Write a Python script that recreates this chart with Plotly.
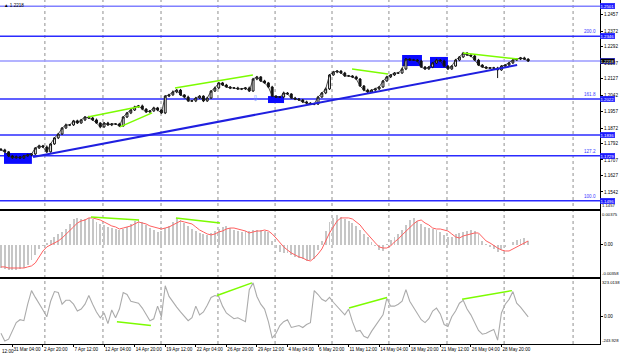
import plotly.graph_objects as go

# ---------------- data ----------------
closes = [
    1.1759, 1.1749, 1.1728, 1.1718, 1.1723, 1.1718, 1.1728, 1.1733, 1.1738, 1.1769,
    1.1780, 1.1774, 1.1749, 1.1790, 1.1821, 1.1841, 1.1872, 1.1888, 1.1888, 1.1909,
    1.1898, 1.1914, 1.1929, 1.1924, 1.1914, 1.1898, 1.1878, 1.1898, 1.1888, 1.1893,
    1.1893, 1.1883, 1.1929, 1.1950, 1.1965, 1.1981, 1.1986, 1.1970, 1.1955, 1.1960,
    1.1976, 1.1965, 1.1950, 1.2037, 1.2043, 1.2058, 1.2068, 1.2043, 1.2032, 1.2012,
    1.2012, 1.2027, 1.2037, 1.2012, 1.2027, 1.2063, 1.2079, 1.2105, 1.2094, 1.2084,
    1.2079, 1.2079, 1.2074, 1.2074, 1.2079, 1.2063, 1.2125, 1.2136, 1.2115, 1.2105,
    1.2084, 1.2037, 1.2032, 1.2032, 1.2053, 1.2048, 1.2027, 1.2022, 1.2017, 1.2007,
    1.2001, 1.1996, 1.1996, 1.2032, 1.2053, 1.2074, 1.2146, 1.2161, 1.2166, 1.2156,
    1.2141, 1.2141, 1.2136, 1.2125, 1.2089, 1.2068, 1.2058, 1.2068, 1.2074, 1.2084,
    1.2115, 1.2136, 1.2146, 1.2156, 1.2156, 1.2177, 1.2228, 1.2223, 1.2223, 1.2218,
    1.2187, 1.2177, 1.2187, 1.2208, 1.2223, 1.2218, 1.2192, 1.2177, 1.2192, 1.2223,
    1.2239, 1.2259, 1.2249, 1.2244, 1.2223, 1.2197, 1.2187, 1.2182, 1.2182, 1.2182,
    1.2172, 1.2192, 1.2197, 1.2208, 1.2223, 1.2228, 1.2234, 1.2228, 1.2218,
]
first_open = 1.1763
wick_up_pips = [
    5, 6, 4, 5, 7, 4, 5, 6, 5, 4, 6, 5, 8, 5, 4, 6, 5, 7, 4, 5,
    6, 5, 4, 6, 5, 7, 4, 5, 6, 5, 4, 6, 5, 5, 4, 6, 5, 7, 4, 5,
    6, 5, 4, 5, 6, 8, 5, 6, 4, 7, 5, 6, 5, 4, 6, 5, 7, 4, 5, 6,
    5, 4, 6, 5, 5, 7, 6, 5, 4, 6, 5, 6, 4, 5, 7, 5, 4, 6, 5, 5,
    6, 4, 5, 6, 5, 7, 5, 6, 4, 5, 6, 5, 4, 6, 5, 5, 7, 4, 6, 5,
    5, 6, 4, 5, 6, 7, 5, 4, 6, 5, 6, 5, 5, 4, 6, 5, 7, 5, 4, 6,
    5, 6, 5, 4, 5, 6, 5, 4, 5, 6, 6, 5, 4, 6, 5, 4, 5, 6, 4,
]
wick_dn_pips = [
    4, 5, 6, 5, 4, 6, 5, 4, 6, 5, 5, 4, 6, 4, 5, 6, 5, 4, 6, 5,
    5, 4, 6, 5, 5, 4, 7, 5, 4, 6, 5, 6, 4, 5, 6, 5, 4, 6, 5, 5,
    4, 6, 5, 6, 5, 4, 6, 5, 7, 5, 4, 6, 5, 6, 5, 4, 5, 6, 5, 4,
    6, 5, 4, 6, 5, 5, 4, 6, 5, 4, 6, 5, 5, 4, 6, 5, 4, 6, 5, 6,
    5, 4, 6, 5, 4, 6, 5, 4, 6, 5, 5, 4, 6, 5, 4, 6, 5, 5, 4, 6,
    5, 4, 6, 5, 5, 4, 6, 5, 4, 6, 5, 5, 4, 6, 5, 4, 6, 5, 5, 4,
    6, 5, 4, 6, 5, 5, 4, 6, 5, 4, 42, 5, 4, 6, 5, 4, 5, 4, 5,
]

macd_hist = [
    -0.00258, -0.00269, -0.00280, -0.00280, -0.00280, -0.00269, -0.00258, -0.00224, -0.00169, -0.00113,
    -0.00047, -0.00013, 0.00020, 0.00053, 0.00087, 0.00120, 0.00142, 0.00175, 0.00231, 0.00286,
    0.00298, 0.00286, 0.00286, 0.00298, 0.00286, 0.00253, 0.00231, 0.00220, 0.00198, 0.00186,
    0.00175, 0.00164, 0.00175, 0.00198, 0.00231, 0.00264, 0.00275, 0.00253, 0.00220, 0.00186,
    0.00164, 0.00142, 0.00153, 0.00186, 0.00209, 0.00253, 0.00298, 0.00275, 0.00242, 0.00209,
    0.00175, 0.00153, 0.00131, 0.00120, 0.00109, 0.00131, 0.00153, 0.00175, 0.00198, 0.00209,
    0.00186, 0.00164, 0.00153, 0.00142, 0.00153, 0.00153, 0.00164, 0.00164, 0.00164, 0.00153,
    0.00142, 0.00042, -0.00036, -0.00080, -0.00091, -0.00091, -0.00113, -0.00135, -0.00147, -0.00158,
    -0.00180, -0.00169, -0.00158, -0.00058, 0.00042, 0.00153, 0.00253, 0.00298, 0.00331, 0.00309,
    0.00286, 0.00264, 0.00242, 0.00209, 0.00164, 0.00120, 0.00087, 0.00031, -0.00013, -0.00058,
    -0.00069, 0.00009, 0.00053, 0.00087, 0.00120, 0.00164, 0.00220, 0.00275, 0.00298, 0.00264,
    0.00231, 0.00198, 0.00186, 0.00175, 0.00164, 0.00142, 0.00109, 0.00087, 0.00087, 0.00120,
    0.00131, 0.00142, 0.00153, 0.00164, 0.00153, 0.00120, 0.00042, 0.00009, -0.00024, -0.00047,
    -0.00080, -0.00058, -0.00024, -0.00002, 0.00031, 0.00053, 0.00064, 0.00075, 0.00042,
]
macd_signal = [
    -0.00246, -0.00246, -0.00258, -0.00258, -0.00258, -0.00258, -0.00258, -0.00246, -0.00235, -0.00202,
    -0.00135, -0.00069, -0.00024, -0.00002, 0.00020, 0.00042, 0.00075, 0.00120, 0.00164, 0.00198,
    0.00242, 0.00264, 0.00275, 0.00298, 0.00298, 0.00286, 0.00275, 0.00253, 0.00231, 0.00209,
    0.00198, 0.00175, 0.00186, 0.00198, 0.00209, 0.00231, 0.00253, 0.00242, 0.00231, 0.00209,
    0.00198, 0.00186, 0.00175, 0.00186, 0.00198, 0.00220, 0.00242, 0.00264, 0.00253, 0.00242,
    0.00231, 0.00198, 0.00164, 0.00142, 0.00120, 0.00109, 0.00120, 0.00142, 0.00153, 0.00175,
    0.00186, 0.00186, 0.00175, 0.00164, 0.00153, 0.00131, 0.00142, 0.00153, 0.00153, 0.00164,
    0.00153, 0.00120, 0.00075, 0.00020, -0.00024, -0.00058, -0.00091, -0.00113, -0.00135, -0.00147,
    -0.00169, -0.00180, -0.00147, -0.00102, -0.00047, 0.00042, 0.00131, 0.00198, 0.00264, 0.00298,
    0.00298, 0.00298, 0.00286, 0.00253, 0.00220, 0.00164, 0.00120, 0.00064, 0.00020, -0.00024,
    -0.00036, -0.00036, -0.00013, 0.00031, 0.00064, 0.00109, 0.00153, 0.00186, 0.00231, 0.00264,
    0.00275, 0.00242, 0.00220, 0.00186, 0.00175, 0.00175, 0.00164, 0.00153, 0.00120, 0.00087,
    0.00075, 0.00098, 0.00109, 0.00120, 0.00131, 0.00131, 0.00087, 0.00042, 0.00020, -0.00013,
    -0.00036, -0.00058, -0.00069, -0.00069, -0.00047, -0.00024, -0.00002, 0.00020, 0.00042,
]
cci = [
    -150.6, -218.3, -201.4, -125.2, -57.5, -32.1, -40.6, 103.2, 221.7, 162.4,
    111.7, 52.5, -6.8, 128.6, 213.2, 204.7, 103.2, 137.1, 137.1, 103.2,
    44.0, 60.9, 103.2, 179.4, 103.2, 35.5, -15.2, 27.1, -66.0, 52.5,
    -15.2, 60.9, 204.7, 187.8, 128.6, 120.1, 111.7, 69.4, 18.6, -40.6,
    -23.7, 86.3, -6.8, 264.0, 170.9, 120.1, 77.8, 35.5, 1.7, -40.6,
    -15.2, 86.3, 10.2, 35.5, 94.8, 162.4, 179.4, 170.9, 86.3, 27.1,
    1.7, -23.7, -15.2, -32.1, -49.1, 230.1, 289.3, 170.9, 103.2, 60.9,
    -49.1, -192.0, -150.6, -82.9, -49.1, -32.1, -99.8, -91.4, -82.9, -99.8,
    -74.4, -57.5, 221.7, 187.8, 145.5, 128.6, 162.4, 120.1, 86.3, 52.5,
    10.2, 60.9, -49.1, -133.7, -125.2, -176.0, -192.0, -133.7, -82.9, -40.6,
    10.2, 154.0, 86.3, 86.3, 103.2, 128.6, 230.1, 128.6, 77.8, 18.6,
    -32.1, -57.5, -23.7, 44.0, 69.4, 18.6, -74.4, -91.4, -6.8, 44.0,
    111.7, 137.1, 60.9, 10.2, -57.5, -125.2, -159.0, -150.6, -133.7, -116.7,
    -209.9, 27.1, 103.2, 145.5, 213.2, 111.7, 77.8, 35.5, -6.8,
]

date_labels = ["31 Mar 04:00", "2 Apr 20:00", "7 Apr 12:00", "12 Apr 04:00", "14 Apr 20:00",
               "19 Apr 12:00", "22 Apr 04:00", "26 Apr 20:00", "29 Apr 12:00", "4 May 04:00",
               "6 May 20:00", "11 May 12:00", "14 May 04:00", "18 May 20:00", "21 May 12:00",
               "26 May 04:00", "28 May 20:00"]
price_ticks = [1.2457, 1.2372, 1.2292, 1.2207, 1.2127, 1.2042, 1.1957, 1.1872,
               1.1792, 1.1707, 1.1627, 1.1542]
price_bottom_label = "1.1457"
level_prices = [1.2501, 1.2346, 1.2218, 1.2022, 1.1836, 1.1729, 1.1496]
level_colors = ["#8080ff", "#2b2bff", "#9a9aff", "#2b2bff", "#2b2bff", "#2b2bff", "#2b2bff"]
fibo_names = {1.2346: "200.0", 1.2022: "161.8", 1.1729: "127.2", 1.1496: "100.0"}
macd_top_label, macd_zero_label, macd_bottom_label = "0.00375", "0.00", "-0.00358"
cci_top_label, cci_zero_label, cci_bottom_label = "323.0138", "0.00", "-243.928"
macd_range = [-0.00358, 0.00375]
cci_range = [-243.928, 323.0138]

trend_line = [(16.8, 1.1723), (270.2, 1.2197)]
price_divergences = [[(45.5, 1.1929), (72.8, 1.1983)], [(62.3, 1.1878), (79.1, 1.1950)],
                     [(91.1, 1.2079), (131.9, 1.2146)], [(183.8, 1.2177), (202.6, 1.2151)],
                     [(241.9, 1.2259), (270.7, 1.2228)]]
macd_divergences = [[(47.1, 0.00309), (72.3, 0.00275)], [(91.6, 0.00298), (114.7, 0.00242)]]
cci_divergences = [[(60.7, -49.1), (78.5, -82.9)], [(113.1, 179.4), (131.4, 289.3)],
                   [(182.2, 69.4), (202.1, 162.4)], [(241.4, 145.5), (267.5, 221.7)]]
label_boxes = [((1.6, 16.2), (1.1687, 1.1743)), ((139.8, 148.2), (1.2001, 1.2037)),
               ((210.0, 220.4), (1.2192, 1.2249)), ((224.6, 234.0), (1.2182, 1.2239))]
grid_bars = [23.0, 53.4, 83.8, 113.6, 143.5, 173.3, 203.1, 233.5, 263.4, 299.5]

# ---------------- derived OHLC ----------------
bars_per_candle = 2
xs = [bars_per_candle * i for i in range(len(closes))]
opens = [first_open] + closes[:-1]
highs = [max(o, c) + w * 0.0001 for o, c, w in zip(opens, closes, wick_up_pips)]
lows = [min(o, c) - w * 0.0001 for o, c, w in zip(opens, closes, wick_dn_pips)]

FONT = "Liberation Sans, Arial, sans-serif"
FS = 4.6

fig = go.Figure()
fig.add_trace(go.Candlestick(
    x=xs, open=opens, high=highs, low=lows, close=closes, xaxis="x", yaxis="y",
    increasing=dict(line=dict(color="#111111", width=1), fillcolor="#ffffff"),
    decreasing=dict(line=dict(color="#111111", width=1), fillcolor="#111111"),
    whiskerwidth=0, showlegend=False, hoverinfo="skip"))
fig.add_trace(go.Scatter(x=xs, y=closes, mode="lines", line=dict(color="#222222", width=0.8),
                         xaxis="x", yaxis="y", showlegend=False, hoverinfo="skip"))

fig.add_trace(go.Bar(x=[bars_per_candle * i for i in range(len(macd_hist))], y=macd_hist,
                     width=1.0, marker=dict(color="#c6c6c6", line=dict(width=0)),
                     xaxis="x2", yaxis="y2", showlegend=False, hoverinfo="skip"))
fig.add_trace(go.Scatter(x=[bars_per_candle * i for i in range(len(macd_signal))], y=macd_signal,
                         mode="lines", line=dict(color="#ff5f5f", width=1),
                         xaxis="x2", yaxis="y2", showlegend=False, hoverinfo="skip"))
fig.add_trace(go.Scatter(x=[bars_per_candle * i for i in range(len(cci))], y=cci,
                         mode="lines", line=dict(color="#ababab", width=1.1),
                         xaxis="x3", yaxis="y3", showlegend=False, hoverinfo="skip"))

for seg in price_divergences:
    fig.add_trace(go.Scatter(x=[p[0] for p in seg], y=[p[1] for p in seg], mode="lines",
                             line=dict(color="#7cfc00", width=1.5), xaxis="x", yaxis="y",
                             showlegend=False, hoverinfo="skip"))
for seg in macd_divergences:
    fig.add_trace(go.Scatter(x=[p[0] for p in seg], y=[p[1] for p in seg], mode="lines",
                             line=dict(color="#7cfc00", width=1.5), xaxis="x2", yaxis="y2",
                             showlegend=False, hoverinfo="skip"))
for seg in cci_divergences:
    fig.add_trace(go.Scatter(x=[p[0] for p in seg], y=[p[1] for p in seg], mode="lines",
                             line=dict(color="#7cfc00", width=1.5), xaxis="x3", yaxis="y3",
                             showlegend=False, hoverinfo="skip"))
fig.add_trace(go.Scatter(x=[p[0] for p in trend_line], y=[p[1] for p in trend_line], mode="lines",
                         line=dict(color="#1f1fe0", width=2), xaxis="x", yaxis="y",
                         showlegend=False, hoverinfo="skip"))

shapes = []
for g in grid_bars:
    shapes.append(dict(type="line", xref="x", yref="paper", x0=g, x1=g, y0=0, y1=1,
                       line=dict(color="#909090", width=1, dash="dot"), layer="below"))
for lv, col in zip(level_prices, level_colors):
    shapes.append(dict(type="line", xref="paper", yref="y", x0=0, x1=1, y0=lv, y1=lv,
                       line=dict(color=col, width=1.5), layer="below"))
for (bx0, bx1), (by0, by1) in label_boxes:
    shapes.append(dict(type="rect", xref="x", yref="y", x0=bx0, x1=bx1, y0=by0, y1=by1,
                       fillcolor="#0a0aff", line=dict(width=0), layer="below"))

annotations = []
for lv, col in zip(level_prices, level_colors):
    bg = "#000000" if lv == closes[-1] else "#1a1aff"
    annotations.append(dict(xref="paper", yref="y", x=1.0, y=lv, xanchor="left", yanchor="middle",
                            text=f"{lv:.4f}", showarrow=False, bgcolor=bg, borderpad=0,
                            bordercolor="#1a1aff", borderwidth=0.5,
                            font=dict(family=FONT, size=4.3, color="white")))
for lv, name in fibo_names.items():
    annotations.append(dict(xref="paper", yref="y", x=0.997, y=lv, xanchor="right", yanchor="bottom",
                            text=name, showarrow=False, font=dict(family=FONT, size=FS, color="#3a3aff")))
annotations.append(dict(xref="x", yref="y", x=133, y=1.2027, text="⇩", showarrow=False,
                        font=dict(family="DejaVu Sans", size=8, color="#6f8fff")))
annotations.append(dict(xref="paper", yref="paper", x=0.004, y=0.998, xanchor="left", yanchor="top",
                        text="▲ 1.2218", showarrow=False,
                        font=dict(family=FONT, size=FS, color="black")))
annotations.append(dict(xref="paper", yref="paper", x=0.0, y=0, xanchor="left", yanchor="top",
                        yshift=-3, text="12:00", showarrow=False,
                        font=dict(family=FONT, size=FS, color="black")))
# edge labels of each panel, kept inside their panel like the terminal does
edge_labels = [("y domain", 0, "bottom", price_bottom_label),
               ("y2 domain", 1, "top", macd_top_label),
               ("y2 domain", 0, "bottom", macd_bottom_label),
               ("y3 domain", 1, "top", cci_top_label),
               ("y3 domain", 0, "bottom", cci_bottom_label)]
for yref, yv, yanc, txt in edge_labels:
    annotations.append(dict(xref="paper", yref=yref, x=1.0, y=yv, xanchor="left", yanchor=yanc,
                            xshift=1, text=txt, showarrow=False, borderpad=0,
                            font=dict(family=FONT, size=4.2, color="black")))

H = 344.0
axis_common = dict(showgrid=False, zeroline=False, showline=True, mirror=True,
                   linecolor="black", linewidth=1)
yaxis_common = dict(side="right", ticks="outside", ticklen=2, tickcolor="black",
                    tickfont=dict(family=FONT, size=FS, color="black"), **axis_common)

fig.update_layout(
    width=620, height=357,
    margin=dict(l=0, r=20, t=0, b=357 - H),
    paper_bgcolor="white", plot_bgcolor="white",
    showlegend=False, bargap=0,
    xaxis=dict(domain=[0, 1], range=[-0.5, 313.6], anchor="y", showticklabels=False,
               rangeslider=dict(visible=False), **axis_common),
    xaxis2=dict(domain=[0, 1], matches="x", anchor="y2", showticklabels=False, **axis_common),
    xaxis3=dict(domain=[0, 1], matches="x", anchor="y3", tickmode="array",
                tickvals=[6 + 16 * j for j in range(len(date_labels))], ticktext=date_labels,
                ticklabelposition="outside right", tickangle=0, ticks="outside", ticklen=2,
                tickcolor="black", tickfont=dict(family=FONT, size=FS, color="black"), **axis_common),
    yaxis=dict(domain=[1 - 209 / H, 1], range=[1.1454, 1.2533], tickmode="array",
               tickvals=price_ticks, ticktext=[f"{t:.4f}" for t in price_ticks], **yaxis_common),
    yaxis2=dict(domain=[1 - 277 / H, 1 - 211 / H], range=macd_range, tickmode="array",
                tickvals=[0.0], ticktext=[macd_zero_label], **yaxis_common),
    yaxis3=dict(domain=[0, 1 - 279 / H], range=cci_range, tickmode="array",
                tickvals=[0.0], ticktext=[cci_zero_label], **yaxis_common),
    shapes=shapes, annotations=annotations,
)

fig.write_html("out.html", config={"displayModeBar": False, "staticPlot": True},
               post_script="document.body.style.margin='0';document.body.style.padding='0';")
